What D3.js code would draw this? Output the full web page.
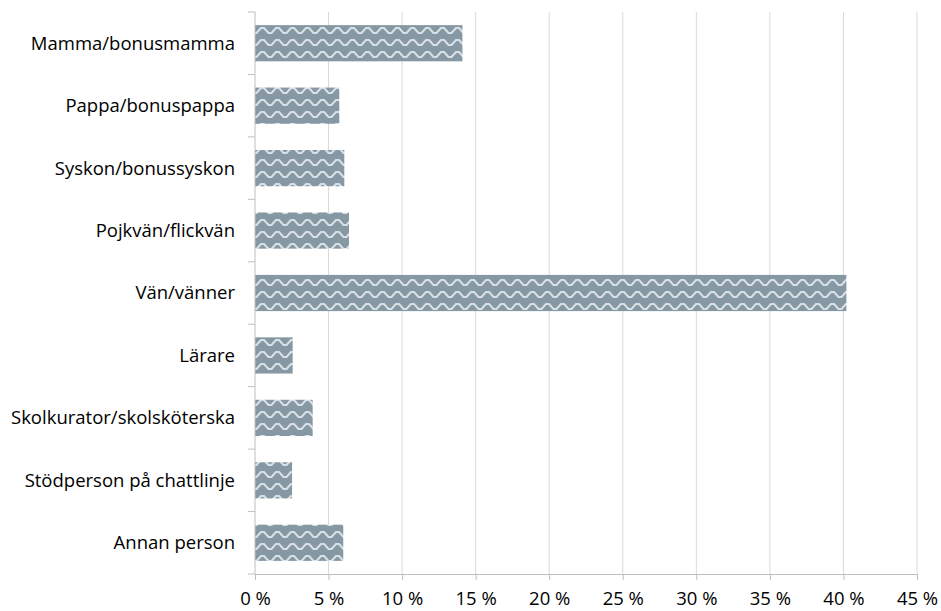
<!DOCTYPE html>
<html><head><meta charset="utf-8">
<script src="https://cdn.jsdelivr.net/npm/d3@7"></script>
<style>
html,body{margin:0;padding:0;background:#fff;}
svg{display:block;font-family:"Open Sans", sans-serif;}
</style></head>
<body>
<svg id="chart" width="941" height="611"></svg>
<script>
const categories = ["Mamma/bonusmamma","Pappa/bonuspappa","Syskon/bonussyskon","Pojkvän/flickvän","Vän/vänner","Lärare","Skolkurator/skolsköterska","Stödperson på chattlinje","Annan person"];
const values = [14.1, 5.73, 6.07, 6.39, 40.2, 2.56, 3.92, 2.52, 6.0];
const xTicks = [0,5,10,15,20,25,30,35,40,45];

const svg = d3.select("#chart");
const plotLeft = 255, plotRight = 917, plotTop = 12, plotBottom = 574;
const fontSize = "18.5px";

const x = d3.scaleLinear().domain([0,45]).range([plotLeft,plotRight]);
const y = d3.scaleBand().domain(categories).range([plotTop,plotBottom]).paddingInner(0.42).paddingOuter(0.21);

// pattern
const defs = svg.append("defs");
const pat = defs.append("pattern").attr("id","wave").attr("patternUnits","userSpaceOnUse")
  .attr("width",15).attr("height",12).attr("x",plotLeft).attr("y",plotTop);
pat.append("rect").attr("width",15).attr("height",12).attr("fill","#8798a5");
pat.append("path").attr("d","M-1,9 L1.5,9 L6,4 L9,4 L13.5,9 L16,9")
  .attr("fill","none").attr("stroke","#d8e0e6").attr("stroke-width",2).attr("stroke-linejoin","round");

// gridlines
svg.append("g").selectAll("line").data(xTicks.slice(1)).join("line")
  .attr("x1",d=>x(d)).attr("x2",d=>x(d)).attr("y1",plotTop).attr("y2",plotBottom)
  .attr("stroke","#d9d9d9").attr("stroke-width",1);

// bars
svg.append("g").selectAll("rect").data(categories).join("rect")
  .attr("x",x(0)).attr("y",d=>y(d))
  .attr("width",(d,i)=>x(values[i])-x(0)).attr("height",y.bandwidth())
  .attr("fill","url(#wave)");

// x axis
const xAxis = d3.axisBottom(x).tickValues(xTicks).tickSize(6).tickPadding(12)
  .tickFormat(d=>d+" %");
const gx = svg.append("g").attr("transform",`translate(0,${plotBottom})`).call(xAxis);
gx.select(".domain").attr("stroke","#bfbfbf").attr("d",`M${plotLeft},0.5H${plotRight}`);
gx.selectAll(".tick line").attr("stroke","#bfbfbf");
gx.selectAll(".tick text").attr("fill","#000").style("font-size",fontSize).style("font-family","'Open Sans', sans-serif");

// y axis
const gy = svg.append("g");
gy.append("line").attr("x1",plotLeft).attr("x2",plotLeft).attr("y1",plotTop).attr("y2",plotBottom).attr("stroke","#bfbfbf");
const bounds = d3.range(categories.length+1).map(i=>plotTop + i*y.step());
gy.selectAll("line.tk").data(bounds).join("line").attr("class","tk")
  .attr("x1",plotLeft-7).attr("x2",plotLeft).attr("y1",d=>d).attr("y2",d=>d).attr("stroke","#bfbfbf");
gy.selectAll("text").data(categories).join("text")
  .attr("x",235).attr("y",d=>y(d)+y.bandwidth()/2).attr("dy","0.35em")
  .attr("text-anchor","end").attr("fill","#000").style("font-size",fontSize)
  .text(d=>d);
</script>
</body></html>
